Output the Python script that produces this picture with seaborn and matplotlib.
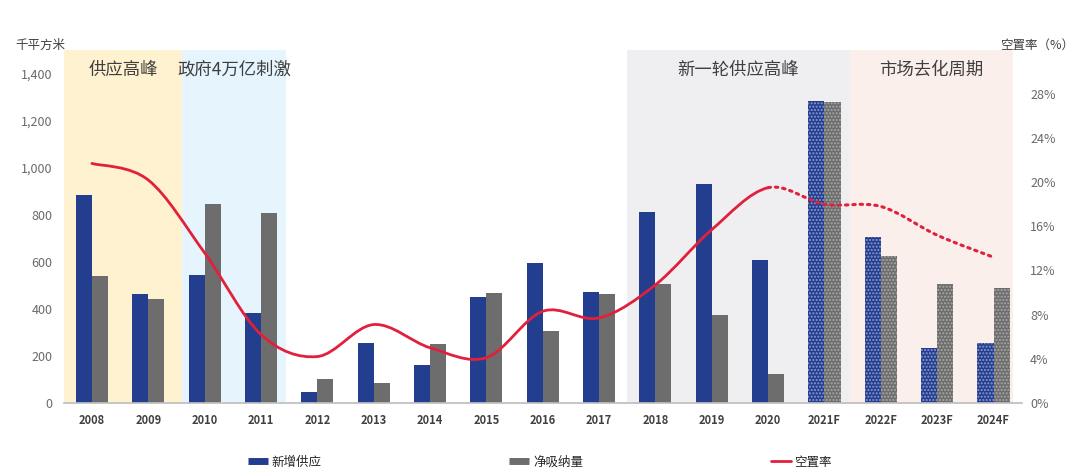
import numpy as np
import pandas as pd
import matplotlib
matplotlib.use("Agg")
import matplotlib.pyplot as plt
import seaborn as sns
from matplotlib.path import Path
from matplotlib.patches import PathPatch
from matplotlib.lines import Line2D

# data
years = ['2008', '2009', '2010', '2011', '2012', '2013', '2014', '2015', '2016',
         '2017', '2018', '2019', '2020', '2021F', '2022F', '2023F', '2024F']
new_supply = [884, 461, 545, 380, 47, 254, 161, 448, 596, 469, 812, 930, 605,
              1281, 706, 233, 254]
net_absorption = [537, 440, 846, 808, 101, 85, 250, 465, 304, 461, 503, 372, 123,
                  1277, 622, 507, 490]
vacancy = [21.7, 20.2, 13.6, 6.2, 4.2, 7.1, 5.0, 4.1, 8.3, 7.7, 10.7, 15.7, 19.5,
           18.0, 17.8, 15.2, 13.2]
first_forecast = 13   # index of 2021F

periods = [('供应高峰', -0.5, 1.6, '#FFF2D0'),
           ('政府4万亿刺激', 1.6, 3.45, '#E6F4FD'),
           ('新一轮供应高峰', 9.5, 13.45, '#EFEFF1'),
           ('市场去化周期', 13.45, 16.35, '#FBEFEC')]

blue = '#233E8E'
grey = '#6D6D6D'
red = '#E2203C'

sns.set_theme(style='white')
plt.rcParams['font.family'] = ['Noto Sans CJK SC', 'DejaVu Sans']
plt.rcParams['axes.unicode_minus'] = False

df = pd.DataFrame({
    'year': years * 2,
    'value': new_supply + net_absorption,
    'series': ['新增供应'] * len(years) + ['净吸纳量'] * len(years),
})

fig = plt.figure(figsize=(10.8, 4.74), dpi=100)
ax = fig.add_axes([0.059, 0.150, 0.887, 0.745])

for label, x0, x1, c in periods:
    ax.axvspan(x0, x1, color=c, zorder=0, lw=0)
    ax.text((x0 + x1) / 2, 0.943, label, transform=ax.get_xaxis_transform(),
            ha='center', va='center', fontsize=12.5, color='#3F3F3F')

sns.barplot(data=df, x='year', y='value', hue='series', order=years,
            palette=[blue, grey], width=0.57, gap=0, saturation=1,
            legend=False, ax=ax, zorder=2)

# forecast bars get a dotted texture
tints = ['#8C9BD0', '#A9A9A9']
for cont, tint in zip(ax.containers, tints):
    for i, bar in enumerate(cont):
        bar.set_linewidth(0)
        if i >= first_forecast:
            bar.set_hatch('.....')
            bar.set_edgecolor(tint)

ax.set_xlim(-0.5, len(years) - 0.5)
ax.set_ylim(0, 1500)
ax.set_yticks(range(0, 1401, 200))
ax.set_yticklabels([f'{v:,}' for v in range(0, 1401, 200)])
ax.set_xlabel('')
ax.set_ylabel('')
ax.tick_params(axis='y', length=0, labelsize=9, labelcolor='#6A6A6A', pad=8)
ax.tick_params(axis='x', which='major', length=0, labelsize=8, labelcolor='#404040', pad=8)
ax.set_xticks(np.arange(-0.5, len(years)), minor=True)
ax.tick_params(axis='x', which='minor', length=4, color='#BFBFBF', width=0.8)
for t in ax.get_xticklabels():
    t.set_fontweight('bold')
for s in ['left', 'right', 'top']:
    ax.spines[s].set_visible(False)
ax.spines['bottom'].set_color('#BFBFBF')

# vacancy rate on the right axis, smoothed like the original line
ax2 = ax.twinx()
ax2.set_ylim(0, 32)
ax2.set_yticks(range(0, 29, 4))
ax2.set_yticklabels([f'{v}%' for v in range(0, 29, 4)])
ax2.tick_params(axis='y', length=0, labelsize=9, labelcolor='#6A6A6A', pad=6)
for s in ax2.spines.values():
    s.set_visible(False)

xs = np.arange(len(years), dtype=float)
ys = np.array(vacancy, dtype=float)


def smooth_path(i0, i1):
    verts = [(xs[i0], ys[i0])]
    codes = [Path.MOVETO]
    for i in range(i0, i1):
        p0 = max(i - 1, 0)
        p3 = min(i + 2, len(xs) - 1)
        c1 = (xs[i] + (xs[i + 1] - xs[p0]) / 6, ys[i] + (ys[i + 1] - ys[p0]) / 6)
        c2 = (xs[i + 1] - (xs[p3] - xs[i]) / 6, ys[i + 1] - (ys[p3] - ys[i]) / 6)
        verts += [c1, c2, (xs[i + 1], ys[i + 1])]
        codes += [Path.CURVE4] * 3
    return Path(verts, codes)


ax2.add_patch(PathPatch(smooth_path(0, first_forecast - 1), fill=False,
                        edgecolor=red, lw=2.0, capstyle='round', zorder=3))
ax2.add_patch(PathPatch(smooth_path(first_forecast - 1, len(xs) - 1), fill=False,
                        edgecolor=red, lw=2.2, linestyle=(0, (0.8, 1.6)),
                        capstyle='round', zorder=3))

fig.text(0.037, 0.905, '千平方米', ha='center', va='center', fontsize=9, color='#404040')
fig.text(0.96, 0.905, '空置率（%）', ha='center', va='center', fontsize=9, color='#404040')

handles = [Line2D([], [], color=blue, lw=5, solid_capstyle='butt'),
           Line2D([], [], color=grey, lw=5, solid_capstyle='butt'),
           Line2D([], [], color=red, lw=2)]
fig.legend(handles, ['新增供应', '净吸纳量', '空置率'], loc='center',
           bbox_to_anchor=(0.5, 0.025), ncol=3, frameon=False, fontsize=9,
           handlelength=1.6, handletextpad=0.3, columnspacing=15)

fig.savefig('out.png', dpi=100)
